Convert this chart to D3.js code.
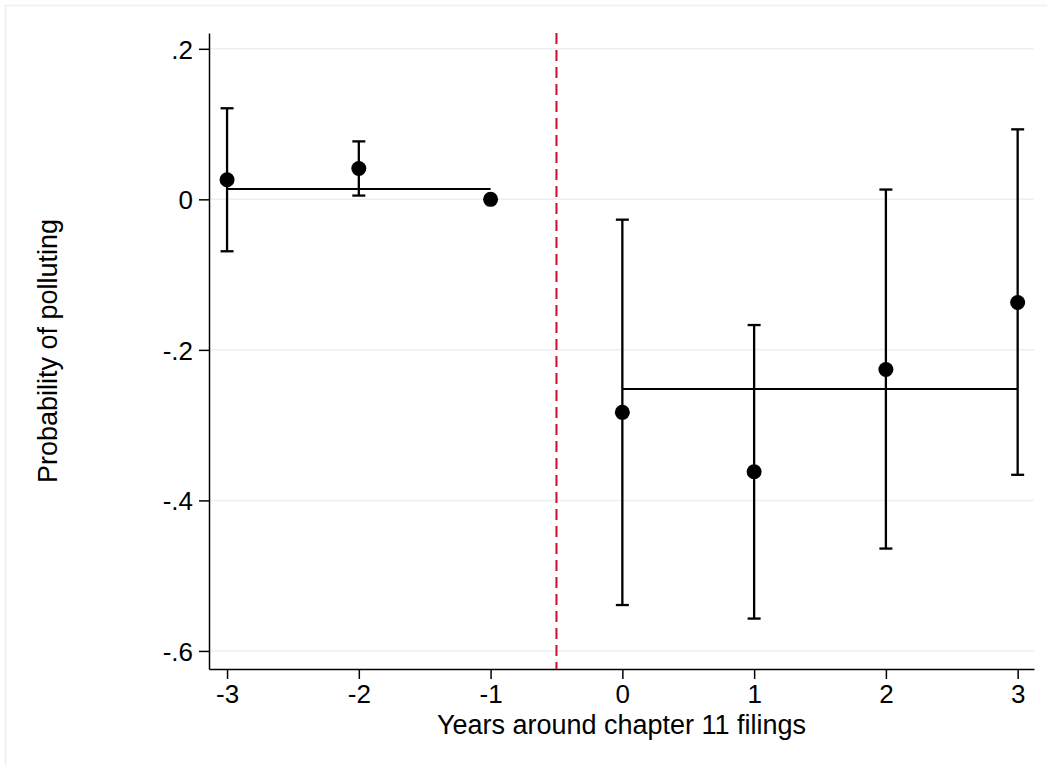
<!DOCTYPE html>
<html>
<head>
<meta charset="utf-8">
<script src="https://cdn.jsdelivr.net/npm/d3@7"></script>
<style>
  html, body { margin: 0; padding: 0; background: #fff; }
  svg { display: block; }
  text { font-family: "Liberation Sans", Arial, Helvetica, sans-serif; fill: #000; }
</style>
</head>
<body>
<svg id="chart" width="1047" height="765"></svg>
<script>
// ---- data ----
const years   = [-3, -2, -1, 0, 1, 2, 3];
const coef    = [0.026, 0.041, 0.000, -0.283, -0.362, -0.226, -0.137];
const ciLow   = [-0.069, 0.005, null, -0.539, -0.557, -0.464, -0.366];
const ciHigh  = [0.121, 0.077, null, -0.027, -0.167, 0.013, 0.093];
const meanLines = [
  { from: -3, to: -1, value: 0.0136 },
  { from: 0, to: 3, value: -0.252 }
];
const eventLine = -0.5;
const yTicks = [0.2, 0, -0.2, -0.4, -0.6];
const yTickLabels = [".2", "0", "-.2", "-.4", "-.6"];
const xTicks = [-3, -2, -1, 0, 1, 2, 3];
const xTitle = "Years around chapter 11 filings";
const yTitle = "Probability of polluting";

// ---- layout ----
const svg = d3.select("#chart");
const L = 209, R = 1034, T = 33, B = 669;

const x = d3.scaleLinear().domain([-3.137, 3.124]).range([L, R]);
const y = d3.scaleLinear().domain([-0.624, 0.221]).range([B, T]);

// outer frame
svg.append("rect")
  .attr("x", 5.5).attr("y", 5.5).attr("width", 1100).attr("height", 1100)
  .attr("fill", "none").attr("stroke", "#e9eff4").attr("stroke-width", 1.5);

// gridlines
svg.append("g").selectAll("line").data(yTicks).join("line")
  .attr("x1", L).attr("x2", R)
  .attr("y1", d => y(d)).attr("y2", d => y(d))
  .attr("stroke", "#eaf0f3").attr("stroke-width", 1.5);

// y axis
const yAxis = d3.axisLeft(y).tickValues(yTicks)
  .tickFormat((d, i) => yTickLabels[i]).tickSize(10).tickSizeOuter(0).tickPadding(6);
const gy = svg.append("g").attr("transform", `translate(${L},0)`).call(yAxis);
gy.select(".domain").attr("stroke", "#000").attr("stroke-width", 1.5);
gy.selectAll(".tick line").attr("stroke", "#000").attr("stroke-width", 1.5);
gy.selectAll(".tick text").attr("font-size", 26).attr("dy", "0.36em")
  .style("font-family", "'Liberation Sans', Arial, sans-serif");

// x axis
const xAxis = d3.axisBottom(x).tickValues(xTicks).tickFormat(d3.format("d"))
  .tickSize(10).tickSizeOuter(0).tickPadding(6);
const gx = svg.append("g").attr("transform", `translate(0,${B})`).call(xAxis);
gx.select(".domain").attr("stroke", "#000").attr("stroke-width", 1.5);
gx.selectAll(".tick line").attr("stroke", "#000").attr("stroke-width", 1.5);
gx.selectAll(".tick text").attr("font-size", 26)
  .style("font-family", "'Liberation Sans', Arial, sans-serif")
  .text(d => d < 0 ? "-" + Math.abs(d) : String(d));

// axis titles
svg.append("text").attr("x", (L + R) / 2).attr("y", 734)
  .attr("text-anchor", "middle").attr("font-size", 27).text(xTitle);
svg.append("text")
  .attr("transform", `translate(57,${(T + B) / 2}) rotate(-90)`)
  .attr("text-anchor", "middle").attr("font-size", 27).text(yTitle);

// event (dashed) line
svg.append("line")
  .attr("x1", x(eventLine)).attr("x2", x(eventLine))
  .attr("y1", T).attr("y2", B)
  .attr("stroke", "#c8102e").attr("stroke-width", 2)
  .attr("stroke-dasharray", "11,6");

// mean lines
svg.append("g").selectAll("line").data(meanLines).join("line")
  .attr("x1", d => x(d.from)).attr("x2", d => x(d.to))
  .attr("y1", d => y(d.value)).attr("y2", d => y(d.value))
  .attr("stroke", "#000").attr("stroke-width", 2);

// confidence intervals
const pts = years.map((yr, i) => ({ yr, c: coef[i], lo: ciLow[i], hi: ciHigh[i] }));
const ci = svg.append("g").selectAll("g").data(pts.filter(d => d.lo !== null)).join("g");
ci.append("line")
  .attr("x1", d => x(d.yr)).attr("x2", d => x(d.yr))
  .attr("y1", d => y(d.lo)).attr("y2", d => y(d.hi))
  .attr("stroke", "#000").attr("stroke-width", 2.3);
const capW = 6.5;
ci.append("line")
  .attr("x1", d => x(d.yr) - capW).attr("x2", d => x(d.yr) + capW)
  .attr("y1", d => y(d.hi)).attr("y2", d => y(d.hi))
  .attr("stroke", "#000").attr("stroke-width", 2.3);
ci.append("line")
  .attr("x1", d => x(d.yr) - capW).attr("x2", d => x(d.yr) + capW)
  .attr("y1", d => y(d.lo)).attr("y2", d => y(d.lo))
  .attr("stroke", "#000").attr("stroke-width", 2.3);

// points
svg.append("g").selectAll("circle").data(pts).join("circle")
  .attr("cx", d => x(d.yr)).attr("cy", d => y(d.c)).attr("r", 7.5)
  .attr("fill", "#000");
</script>
</body>
</html>
